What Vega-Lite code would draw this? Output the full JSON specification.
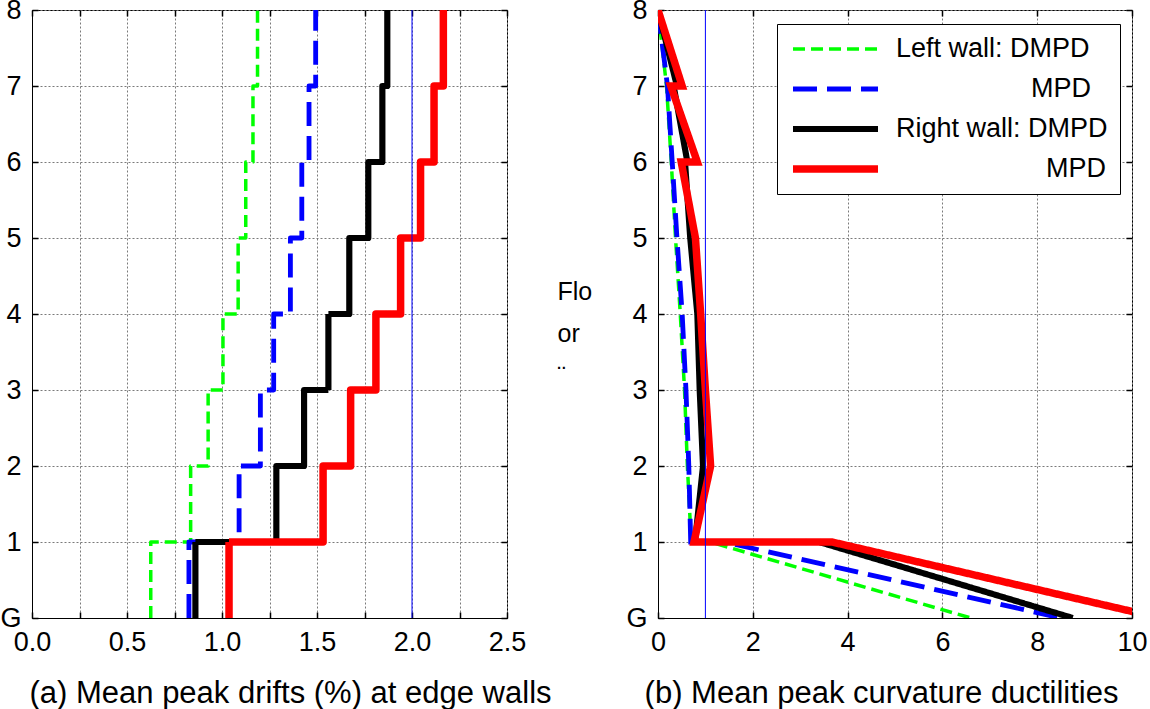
{
  "$schema": "https://vega.github.io/schema/vega-lite/v6.json",
  "background": "white",
  "padding": {"left": -1, "top": -5, "right": 0, "bottom": 0},
  "bounds": "flush",
  "spacing": 151,
  "config": {
    "font": "Liberation Sans",
    "view": {"stroke": "black", "strokeWidth": 1},
    "axis": {
      "labelFont": "Liberation Sans", "labelFontSize": 27, "labelColor": "black",
      "titleFont": "Liberation Sans", "titleFontWeight": "normal", "titleColor": "black",
      "domainColor": "black", "domainWidth": 1, "tickColor": "black", "tickWidth": 1.5, "tickSize": -6,
      "labelPadding": 17, "gridColor": "#7a7a7a", "gridDash": [2, 2], "gridWidth": 1, "gridOpacity": 1,
      "labelOverlap": false, "labelFlush": false
    }
  },
  "datasets": {
    "left": [
      {"s": "a", "x": 0.625, "y": 0, "i": 0}, {"s": "a", "x": 0.625, "y": 1, "i": 1},
      {"s": "a", "x": 0.835, "y": 1, "i": 2}, {"s": "a", "x": 0.835, "y": 2, "i": 3},
      {"s": "a", "x": 0.927, "y": 2, "i": 4}, {"s": "a", "x": 0.927, "y": 3, "i": 5},
      {"s": "a", "x": 1.005, "y": 3, "i": 6}, {"s": "a", "x": 1.005, "y": 4, "i": 7},
      {"s": "a", "x": 1.085, "y": 4, "i": 8}, {"s": "a", "x": 1.085, "y": 5, "i": 9},
      {"s": "a", "x": 1.125, "y": 5, "i": 10}, {"s": "a", "x": 1.125, "y": 6, "i": 11},
      {"s": "a", "x": 1.163, "y": 6, "i": 12}, {"s": "a", "x": 1.163, "y": 7, "i": 13},
      {"s": "a", "x": 1.187, "y": 7, "i": 14}, {"s": "a", "x": 1.187, "y": 8, "i": 15},
      {"s": "b", "x": 0.826, "y": 0, "i": 0}, {"s": "b", "x": 0.826, "y": 1, "i": 1},
      {"s": "b", "x": 1.09, "y": 1, "i": 2}, {"s": "b", "x": 1.09, "y": 2, "i": 3},
      {"s": "b", "x": 1.202, "y": 2, "i": 4}, {"s": "b", "x": 1.202, "y": 3, "i": 5},
      {"s": "b", "x": 1.272, "y": 3, "i": 6}, {"s": "b", "x": 1.272, "y": 4, "i": 7},
      {"s": "b", "x": 1.36, "y": 4, "i": 8}, {"s": "b", "x": 1.36, "y": 5, "i": 9},
      {"s": "b", "x": 1.42, "y": 5, "i": 10}, {"s": "b", "x": 1.42, "y": 6, "i": 11},
      {"s": "b", "x": 1.458, "y": 6, "i": 12}, {"s": "b", "x": 1.458, "y": 7, "i": 13},
      {"s": "b", "x": 1.493, "y": 7, "i": 14}, {"s": "b", "x": 1.493, "y": 8, "i": 15},
      {"s": "c", "x": 0.86, "y": 0, "i": 0}, {"s": "c", "x": 0.86, "y": 1, "i": 1},
      {"s": "c", "x": 1.286, "y": 1, "i": 2}, {"s": "c", "x": 1.286, "y": 2, "i": 3},
      {"s": "c", "x": 1.432, "y": 2, "i": 4}, {"s": "c", "x": 1.432, "y": 3, "i": 5},
      {"s": "c", "x": 1.56, "y": 3, "i": 6}, {"s": "c", "x": 1.56, "y": 4, "i": 7},
      {"s": "c", "x": 1.67, "y": 4, "i": 8}, {"s": "c", "x": 1.67, "y": 5, "i": 9},
      {"s": "c", "x": 1.77, "y": 5, "i": 10}, {"s": "c", "x": 1.77, "y": 6, "i": 11},
      {"s": "c", "x": 1.844, "y": 6, "i": 12}, {"s": "c", "x": 1.844, "y": 7, "i": 13},
      {"s": "c", "x": 1.87, "y": 7, "i": 14}, {"s": "c", "x": 1.87, "y": 8, "i": 15},
      {"s": "d", "x": 1.037, "y": 0, "i": 0}, {"s": "d", "x": 1.037, "y": 1, "i": 1},
      {"s": "d", "x": 1.532, "y": 1, "i": 2}, {"s": "d", "x": 1.532, "y": 2, "i": 3},
      {"s": "d", "x": 1.677, "y": 2, "i": 4}, {"s": "d", "x": 1.677, "y": 3, "i": 5},
      {"s": "d", "x": 1.81, "y": 3, "i": 6}, {"s": "d", "x": 1.81, "y": 4, "i": 7},
      {"s": "d", "x": 1.94, "y": 4, "i": 8}, {"s": "d", "x": 1.94, "y": 5, "i": 9},
      {"s": "d", "x": 2.045, "y": 5, "i": 10}, {"s": "d", "x": 2.045, "y": 6, "i": 11},
      {"s": "d", "x": 2.116, "y": 6, "i": 12}, {"s": "d", "x": 2.116, "y": 7, "i": 13},
      {"s": "d", "x": 2.165, "y": 7, "i": 14}, {"s": "d", "x": 2.165, "y": 8, "i": 15}
    ],
    "right": [
      {"s": "a", "x": 0, "y": 8, "i": 0}, {"s": "a", "x": 0.18, "y": 7, "i": 1},
      {"s": "a", "x": 0.28, "y": 6, "i": 2}, {"s": "a", "x": 0.37, "y": 5, "i": 3},
      {"s": "a", "x": 0.47, "y": 4, "i": 4}, {"s": "a", "x": 0.56, "y": 3, "i": 5},
      {"s": "a", "x": 0.62, "y": 2, "i": 6}, {"s": "a", "x": 0.7, "y": 1, "i": 7},
      {"s": "a", "x": 1.1, "y": 1, "i": 8}, {"s": "a", "x": 6.6, "y": 0, "i": 9},
      {"s": "b", "x": 0, "y": 8, "i": 0}, {"s": "b", "x": 0.2, "y": 7, "i": 1},
      {"s": "b", "x": 0.3, "y": 6, "i": 2}, {"s": "b", "x": 0.4, "y": 5, "i": 3},
      {"s": "b", "x": 0.51, "y": 4, "i": 4}, {"s": "b", "x": 0.59, "y": 3, "i": 5},
      {"s": "b", "x": 0.65, "y": 2, "i": 6}, {"s": "b", "x": 0.69, "y": 1, "i": 7},
      {"s": "b", "x": 1.4, "y": 1, "i": 8}, {"s": "b", "x": 8.5, "y": 0, "i": 9},
      {"s": "c", "x": 0, "y": 8, "i": 0}, {"s": "c", "x": 0.4, "y": 7, "i": 1},
      {"s": "c", "x": 0.33, "y": 7, "i": 2}, {"s": "c", "x": 0.62, "y": 6, "i": 3},
      {"s": "c", "x": 0.57, "y": 6, "i": 4}, {"s": "c", "x": 0.68, "y": 5, "i": 5},
      {"s": "c", "x": 0.83, "y": 4, "i": 6}, {"s": "c", "x": 0.88, "y": 3, "i": 7},
      {"s": "c", "x": 0.95, "y": 2, "i": 8}, {"s": "c", "x": 0.78, "y": 1, "i": 9},
      {"s": "c", "x": 3.4, "y": 1, "i": 10}, {"s": "c", "x": 8.75, "y": 0, "i": 11},
      {"s": "d", "x": 0, "y": 8, "i": 0}, {"s": "d", "x": 0.51, "y": 7, "i": 1},
      {"s": "d", "x": 0.27, "y": 7, "i": 2}, {"s": "d", "x": 0.83, "y": 6, "i": 3},
      {"s": "d", "x": 0.49, "y": 6, "i": 4}, {"s": "d", "x": 0.79, "y": 5, "i": 5},
      {"s": "d", "x": 0.9, "y": 4, "i": 6}, {"s": "d", "x": 1.0, "y": 3, "i": 7},
      {"s": "d", "x": 1.11, "y": 2, "i": 8}, {"s": "d", "x": 0.76, "y": 1, "i": 9},
      {"s": "d", "x": 3.67, "y": 1, "i": 10}, {"s": "d", "x": 10.6, "y": 0, "i": 11}
    ],
    "refL": [{"x": 2}],
    "refR": [{"x": 1}]
  },
  "resolve": {"scale": {"color": "independent", "strokeDash": "independent", "strokeWidth": "independent"}},
  "hconcat": [
    {
      "width": 475,
      "height": 608,
      "resolve": {"axis": {"x": "independent", "y": "independent"}},
      "layer": [
        {
          "data": {"name": "left"},
          "mark": {"type": "line", "strokeCap": "butt", "strokeJoin": "round"},
          "encoding": {
            "x": {"field": "x", "type": "quantitative", "scale": {"domain": [0, 2.5], "nice": false, "zero": false},
              "axis": {"orient": "bottom", "values": [0, 0.25, 0.5, 0.75, 1, 1.25, 1.5, 1.75, 2, 2.25, 2.5],
                "labelExpr": "datum.value % 0.5 == 0 ? format(datum.value, '.1f') : ''", "grid": true,
                "title": "(a) Mean peak drifts (%) at edge walls", "titleFontSize": 31, "titleX": 258, "titleY": 84,
                "titleBaseline": "alphabetic", "titleAlign": "center"}},
            "y": {"field": "y", "type": "quantitative", "scale": {"domain": [0, 8], "nice": false},
              "axis": {"orient": "left", "values": [0, 1, 2, 3, 4, 5, 6, 7, 8],
                "labelExpr": "datum.value == 0 ? 'G' : datum.label", "grid": true, "title": null}},
            "order": {"field": "i", "type": "quantitative"},
            "color": {"field": "s", "type": "nominal", "scale": {"domain": ["a", "b", "c", "d"], "range": ["#00ff00", "#0000ff", "#000000", "#ff0000"]}, "legend": null},
            "strokeDash": {"field": "s", "type": "nominal", "scale": {"domain": ["a", "b", "c", "d"], "range": [[12, 6], [24, 10], [1, 0], [1, 0]]}, "legend": null},
            "strokeWidth": {"field": "s", "type": "nominal", "scale": {"domain": ["a", "b", "c", "d"], "range": [3.5, 7.5, 3.5, 8]}, "legend": null}
          }
        },
        {
          "data": {"name": "refL"},
          "mark": {"type": "rule", "color": "#0000ff", "strokeWidth": 1},
          "encoding": {
            "x": {"field": "x", "type": "quantitative", "scale": {"domain": [0, 2.5], "nice": false, "zero": false},
              "axis": {"orient": "top", "values": [0, 0.25, 0.5, 0.75, 1, 1.25, 1.5, 1.75, 2, 2.25, 2.5], "labels": false, "grid": false, "domain": false, "title": null}},
            "y": {"datum": 0, "type": "quantitative",
              "axis": {"orient": "right", "values": [0, 1, 2, 3, 4, 5, 6, 7, 8], "labels": false, "grid": false, "domain": false, "title": null}},
            "y2": {"datum": 8}
          }
        }
      ]
    },
    {
      "width": 474,
      "height": 608,
      "resolve": {"axis": {"x": "independent", "y": "independent"}},
      "layer": [
        {
          "data": {"name": "right"},
          "mark": {"type": "line", "strokeCap": "butt", "strokeJoin": "miter", "clip": true},
          "encoding": {
            "x": {"field": "x", "type": "quantitative", "scale": {"domain": [0, 10], "nice": false, "zero": false},
              "axis": {"orient": "bottom", "values": [0, 2, 4, 6, 8, 10], "grid": true,
                "title": "(b) Mean peak curvature ductilities", "titleFontSize": 31, "titleX": 223, "titleY": 84,
                "titleBaseline": "alphabetic", "titleAlign": "center"}},
            "y": {"field": "y", "type": "quantitative", "scale": {"domain": [0, 8], "nice": false},
              "axis": {"orient": "left", "values": [0, 1, 2, 3, 4, 5, 6, 7, 8],
                "labelExpr": "datum.value == 0 ? 'G' : datum.label", "grid": true,
                "title": ["Flo", "or", "¨"], "titleAngle": 0, "titleAlign": "left", "titleBaseline": "alphabetic",
                "titleX": -101, "titleY": 289, "titleFontSize": 25, "titleLineHeight": 42}},
            "order": {"field": "i", "type": "quantitative"},
            "color": {"field": "s", "type": "nominal", "scale": {"domain": ["a", "b", "c", "d"], "range": ["#00ff00", "#0000ff", "#000000", "#ff0000"]},
              "legend": {"orient": "none", "legendX": 119, "legendY": 14, "title": null, "symbolType": "stroke", "symbolSize": 7225, "clipHeight": 26, "rowPadding": 13, "padding": 12, "strokeColor": "black", "fillColor": "white", "cornerRadius": 0, "labelFont": "Liberation Sans", "labelFontSize": 27, "labelColor": "black", "labelOffset": 14, "labelLimit": 400,
                "labelExpr": "datum.value == 'a' ? 'Left wall: DMPD' : datum.value == 'b' ? '\u200b\u00a0\u00a0\u00a0\u00a0\u00a0\u00a0\u00a0\u00a0\u00a0\u00a0\u00a0\u00a0\u00a0\u00a0\u00a0\u00a0\u00a0\u00a0MPD' : datum.value == 'c' ? 'Right wall: DMPD' : '\u200b\u00a0\u00a0\u00a0\u00a0\u00a0\u00a0\u00a0\u00a0\u00a0\u00a0\u00a0\u00a0\u00a0\u00a0\u00a0\u00a0\u00a0\u00a0\u00a0\u00a0MPD'"}},
            "strokeDash": {"field": "s", "type": "nominal", "scale": {"domain": ["a", "b", "c", "d"], "range": [[12, 6], [24, 10], [1, 0], [1, 0]]},
              "legend": {"orient": "none", "legendX": 119, "legendY": 14, "title": null, "symbolType": "stroke", "symbolSize": 7225, "clipHeight": 26, "rowPadding": 13, "padding": 12, "strokeColor": "black", "fillColor": "white", "cornerRadius": 0, "labelFont": "Liberation Sans", "labelFontSize": 27, "labelColor": "black", "labelOffset": 14, "labelLimit": 400,
                "labelExpr": "datum.value == 'a' ? 'Left wall: DMPD' : datum.value == 'b' ? '\u200b\u00a0\u00a0\u00a0\u00a0\u00a0\u00a0\u00a0\u00a0\u00a0\u00a0\u00a0\u00a0\u00a0\u00a0\u00a0\u00a0\u00a0\u00a0MPD' : datum.value == 'c' ? 'Right wall: DMPD' : '\u200b\u00a0\u00a0\u00a0\u00a0\u00a0\u00a0\u00a0\u00a0\u00a0\u00a0\u00a0\u00a0\u00a0\u00a0\u00a0\u00a0\u00a0\u00a0\u00a0\u00a0MPD'"}},
            "strokeWidth": {"field": "s", "type": "nominal", "scale": {"domain": ["a", "b", "c", "d"], "range": [3.5, 7.5, 3.5, 8]},
              "legend": {"orient": "none", "legendX": 119, "legendY": 14, "title": null, "symbolType": "stroke", "symbolSize": 7225, "clipHeight": 26, "rowPadding": 13, "padding": 12, "strokeColor": "black", "fillColor": "white", "cornerRadius": 0, "labelFont": "Liberation Sans", "labelFontSize": 27, "labelColor": "black", "labelOffset": 14, "labelLimit": 400,
                "labelExpr": "datum.value == 'a' ? 'Left wall: DMPD' : datum.value == 'b' ? '\u200b\u00a0\u00a0\u00a0\u00a0\u00a0\u00a0\u00a0\u00a0\u00a0\u00a0\u00a0\u00a0\u00a0\u00a0\u00a0\u00a0\u00a0\u00a0MPD' : datum.value == 'c' ? 'Right wall: DMPD' : '\u200b\u00a0\u00a0\u00a0\u00a0\u00a0\u00a0\u00a0\u00a0\u00a0\u00a0\u00a0\u00a0\u00a0\u00a0\u00a0\u00a0\u00a0\u00a0\u00a0\u00a0MPD'"}}
          }
        },
        {
          "data": {"name": "refR"},
          "mark": {"type": "rule", "color": "#0000ff", "strokeWidth": 1},
          "encoding": {
            "x": {"field": "x", "type": "quantitative", "scale": {"domain": [0, 10], "nice": false, "zero": false},
              "axis": {"orient": "top", "values": [0, 2, 4, 6, 8, 10], "labels": false, "grid": false, "domain": false, "title": null}},
            "y": {"datum": 0, "type": "quantitative",
              "axis": {"orient": "right", "values": [0, 1, 2, 3, 4, 5, 6, 7, 8], "labels": false, "grid": false, "domain": false, "title": null}},
            "y2": {"datum": 8}
          }
        }
      ]
    }
  ]
}
